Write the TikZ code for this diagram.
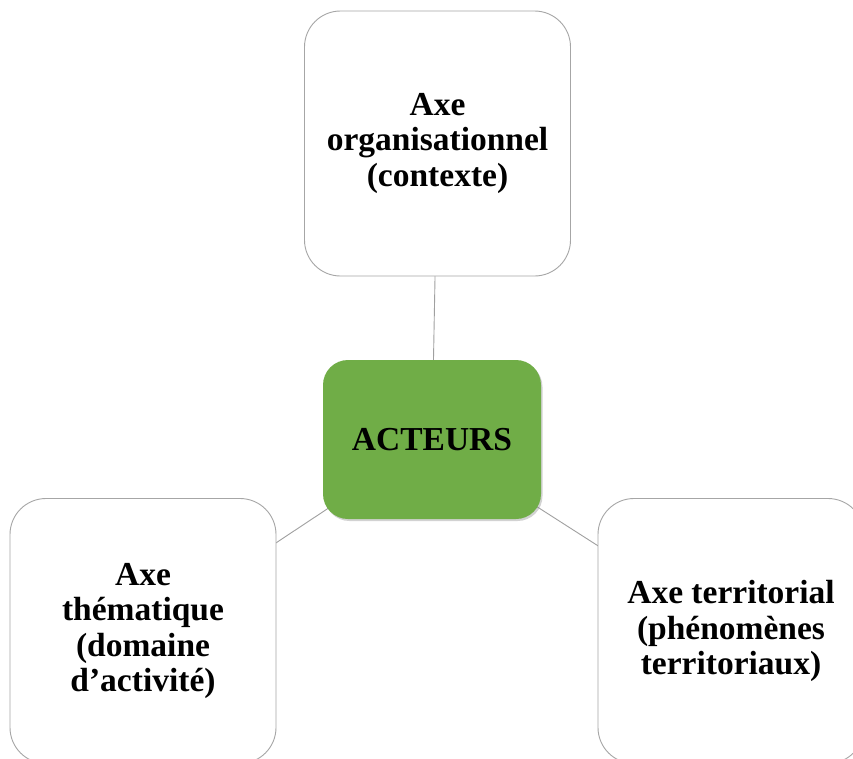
\documentclass[tikz,border=0pt]{standalone}
\usepackage{fontspec}
\setmainfont{Liberation Serif}
\usetikzlibrary{shadows}
\definecolor{leafgreen}{HTML}{70AD47}
\definecolor{rimgray}{HTML}{A6A6A6}
\definecolor{linkgray}{HTML}{A0A0A0}
\pgfdeclarelayer{bg}
\pgfsetlayers{bg,main}
\begin{document}
\begin{tikzpicture}[x=1pt,y=-1pt,
  label text/.style={font=\fontsize{33.5}{35.5}\selectfont\bfseries, align=center, text=black},
  axisbox/.style={label text, draw=rimgray, line width=0.9pt, fill=white,
    rounded corners=36pt, minimum width=266pt, minimum height=265pt, inner sep=0pt},
  hubbox/.style={label text, fill=leafgreen, rounded corners=25pt,
    minimum width=218pt, minimum height=159pt, inner sep=0pt,
    drop shadow={opacity=0.35, shadow xshift=1.5pt, shadow yshift=-2pt}},
  link/.style={draw=linkgray, line width=0.9pt}]
\clip (0,0) rectangle (853,758);
% the three axes around the central actor box
\node[axisbox] (orga) at (437.5,143.5) {Axe\\organisationnel\\(contexte)};
\node[axisbox] (theme) at (143,631) {Axe\\thématique\\(domaine\\d’activité)};
\node[axisbox] (terri) at (731,631) {Axe territorial\\(phénomènes\\territoriaux)};
\node[hubbox] (hub) at (432,439.5) {ACTEURS};
% white page and spokes, drawn centre to centre beneath the boxes
\begin{pgfonlayer}{bg}
  \fill[white] (0,0) rectangle (853,758);
  \draw[link] (hub.center) -- (orga.center);
  \draw[link] (hub.center) -- (theme.center);
  \draw[link] (hub.center) -- (terri.center);
\end{pgfonlayer}
\end{tikzpicture}
\end{document}
